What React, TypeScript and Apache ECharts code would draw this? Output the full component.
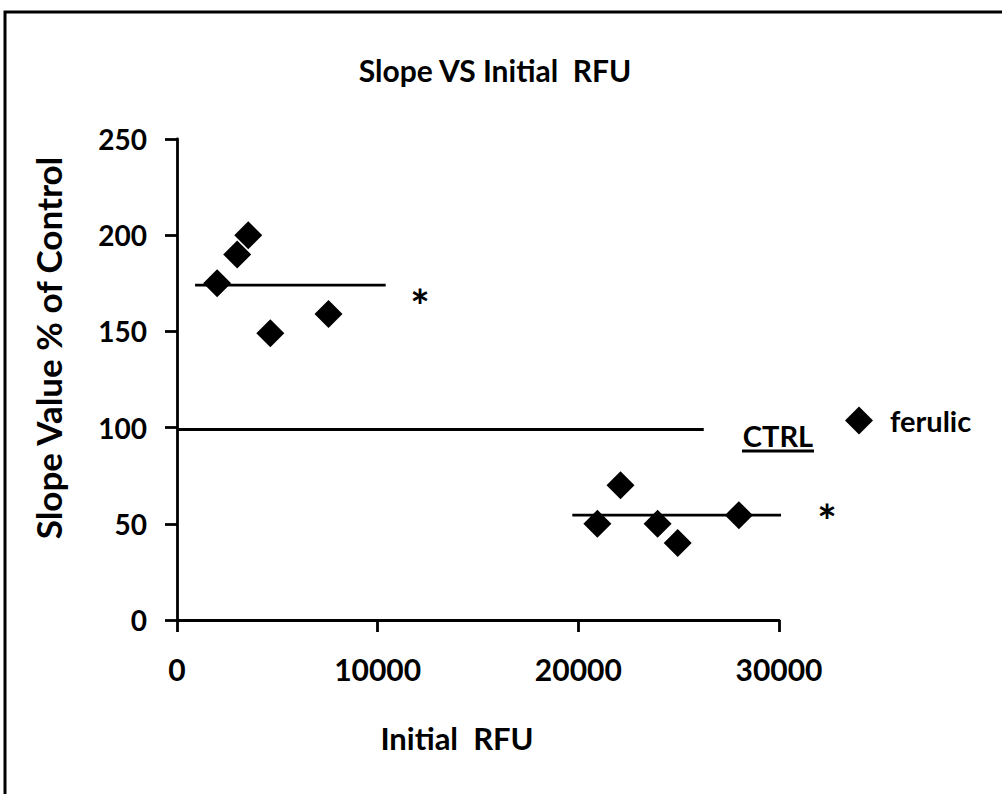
import React, { useEffect, useRef } from "react";
import * as echarts from "echarts";

const ferulicX = [2000, 3000, 3550, 4650, 7550, 20950, 22100, 23950, 24950, 28000];
const ferulicY = [175, 190, 200, 149, 159, 50, 70, 50, 40, 54.5];
const meanHighX = [900, 10400];
const meanHighY = 174;
const ctrlX = [0, 26250];
const ctrlY = 99;
const meanLowX = [19700, 30200];
const meanLowY = 54.5;
const xTicks = [0, 10000, 20000, 30000];
const yTicks = [0, 50, 100, 150, 200, 250];

const FONT = "Lato, 'DejaVu Sans', sans-serif";

export default function App() {
  const ref = useRef<HTMLDivElement>(null);
  useEffect(() => {
    document.body.style.margin = "0";
    const chart = echarts.init(ref.current!, null, { renderer: "svg" });
    const lineStyle = { color: "#000", width: 2.8 };
    chart.setOption({
      animation: false,
      backgroundColor: "#fff",
      title: {
        text: "Slope VS Initial  RFU",
        left: 490,
        textAlign: "center",
        top: 50,
        textStyle: { fontFamily: FONT, fontWeight: "bold", fontSize: 30, color: "#000" },
      },
      grid: { left: 177, right: 223, top: 139, bottom: 174 },
      legend: {
        left: 840,
        top: 401,
        icon: "diamond",
        itemWidth: 28,
        itemHeight: 28,
        itemGap: 10,
        data: ["ferulic"],
        textStyle: { fontFamily: FONT, fontWeight: "bold", fontSize: 29, color: "#000", padding: [0, 0, 0, 12] },
      },
      xAxis: {
        type: "value",
        min: xTicks[0],
        max: xTicks[xTicks.length - 1],
        interval: 10000,
        axisLine: { lineStyle: { color: "#000", width: 2.8 } },
        axisTick: { length: 12, lineStyle: { color: "#000", width: 2.8 } },
        axisLabel: {
          margin: 34,
          fontFamily: FONT,
          fontWeight: "bold",
          fontSize: 30,
          color: "#000",
          formatter: (v: number) => String(v),
        },
        splitLine: { show: false },
      },
      yAxis: {
        type: "value",
        min: yTicks[0],
        max: yTicks[yTicks.length - 1],
        interval: 50,
        axisLine: { show: true, lineStyle: { color: "#000", width: 2.8 } },
        axisTick: { show: true, length: 12, lineStyle: { color: "#000", width: 2.8 } },
        axisLabel: { margin: 30, fontFamily: FONT, fontWeight: "bold", fontSize: 28, color: "#000" },
        splitLine: { show: false },
      },
      series: [
        {
          name: "ferulic",
          type: "scatter",
          symbol: "diamond",
          symbolSize: 28,
          itemStyle: { color: "#000", opacity: 1 },
          data: ferulicX.map((x, i) => [x, ferulicY[i]]),
          z: 3,
        },
        {
          name: "meanHigh",
          type: "line",
          symbol: "none",
          clip: false,
          lineStyle,
          data: meanHighX.map((x) => [x, meanHighY]),
          z: 2,
        },
        {
          name: "ctrl",
          type: "line",
          symbol: "none",
          clip: false,
          lineStyle,
          data: ctrlX.map((x) => [x, ctrlY]),
          z: 2,
        },
        {
          name: "meanLow",
          type: "line",
          symbol: "none",
          clip: false,
          lineStyle,
          data: meanLowX.map((x) => [x, meanLowY]),
          z: 2,
        },
      ],
      graphic: [
        {
          type: "rect",
          shape: { x: 5, y: 12, width: 1100, height: 900 },
          style: { fill: "none", stroke: "#000", lineWidth: 3 },
          silent: true,
        },
        {
          type: "text",
          x: 48,
          y: 348,
          rotation: Math.PI / 2,
          style: {
            text: "Slope Value % of Control",
            fontFamily: FONT,
            fontWeight: "bold",
            fontSize: 35,
            fill: "#000",
            align: "center",
            verticalAlign: "middle",
          },
        },
        {
          type: "text",
          x: 457,
          y: 738,
          style: {
            text: "Initial  RFU",
            fontFamily: FONT,
            fontWeight: "bold",
            fontSize: 31,
            fill: "#000",
            align: "center",
            verticalAlign: "middle",
          },
        },
        {
          type: "text",
          x: 778,
          y: 435,
          style: { text: "CTRL", fontFamily: FONT, fontWeight: "bold", fontSize: 29, fill: "#000", align: "center", verticalAlign: "middle" },
        },
        {
          type: "line",
          shape: { x1: 742, y1: 451, x2: 814, y2: 451 },
          style: { stroke: "#000", lineWidth: 2.8 },
        },
        {
          type: "text",
          x: 420,
          y: 305,
          style: { text: "*", fontFamily: FONT, fontWeight: "bold", fontSize: 46, fill: "#000", align: "center", verticalAlign: "middle" },
        },
        {
          type: "text",
          x: 827,
          y: 520,
          style: { text: "*", fontFamily: FONT, fontWeight: "bold", fontSize: 46, fill: "#000", align: "center", verticalAlign: "middle" },
        },
      ],
    });
    return () => chart.dispose();
  }, []);
  return <div ref={ref} style={{ width: 1002, height: 794 }} />;
}
